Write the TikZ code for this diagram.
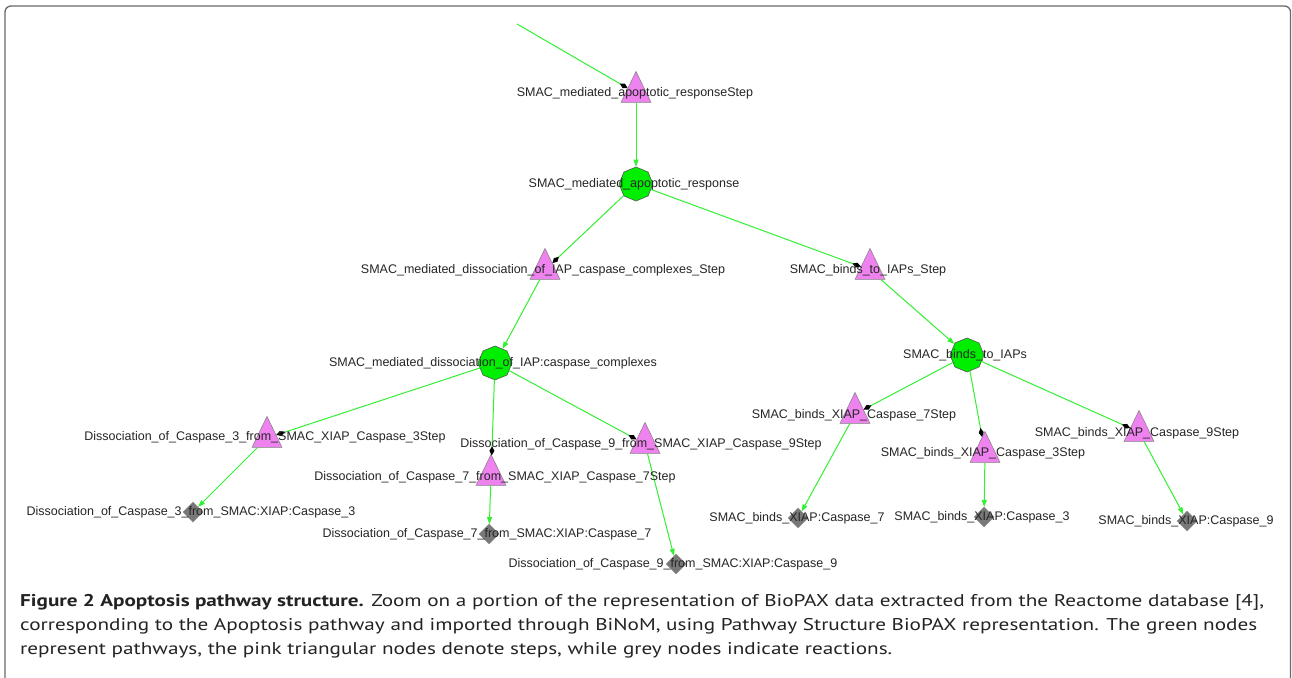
\documentclass[tikz,border=0pt]{standalone}
\usepackage{fontspec}
\setmainfont{Liberation Sans}
\newfontfamily\capfont{PT Sans}
\usetikzlibrary{shapes.geometric,arrows.meta}
\definecolor{edgegreen}{RGB}{50,240,50}
\definecolor{pwgreen}{RGB}{0,238,0}
\definecolor{steppink}{RGB}{238,130,238}
\definecolor{rxgrey}{RGB}{120,120,120}
\definecolor{framegrey}{RGB}{105,105,105}
\definecolor{captext}{RGB}{35,35,35}
\newlength\capw
\newcommand\captextA{\textbf{Figure 2 Apoptosis pathway structure.} Zoom on a portion of the representation of BioPAX data extracted from the Reactome database [4],}
\newcommand\captextB{corresponding to the Apoptosis pathway and imported through BiNoM, using Pathway Structure BioPAX representation. The green nodes}
\newcommand\captextC{represent pathways, the pink triangular nodes denote steps, while grey nodes indicate reactions.}
\newcommand\capsetup{\capfont\fontsize{17}{20}\selectfont\color{captext}}
\tikzset{
  pw/.style={regular polygon, regular polygon sides=8, shape border rotate=22.5,
    minimum size=34pt, inner sep=0pt, fill=pwgreen, draw=black!65, line width=0.6pt},
  stepnode/.style={isosceles triangle, isosceles triangle apex angle=52,
    shape border rotate=90, isosceles triangle stretches,
    minimum width=30pt, minimum height=31pt, inner sep=0pt,
    fill=steppink, draw=black!50, line width=0.5pt},
  rx/.style={diamond, minimum width=20pt, minimum height=20pt, inner sep=0pt,
    fill=rxgrey, draw=black!45, line width=0.5pt},
  lbl/.style={font=\fontsize{12.5}{14}\selectfont, text=black!85, inner sep=0pt},
  toward/.style={draw=edgegreen, line width=1pt, -{Diamond[length=9pt,width=5pt,color=black]}},
  produce/.style={draw=edgegreen, line width=1pt, -{Triangle[length=7pt,width=5pt]}},
  capline/.style={anchor=base west, inner sep=0pt}
}
\begin{document}
\settowidth\capw{\capsetup\captextA}
\pgfmathsetmacro\capsx{1244/\capw}
\begin{tikzpicture}[x=1pt,y=-1pt]
\useasboundingbox (0,0) rectangle (1292,677);
\fill[white] (0,0) rectangle (1292,677);
\draw[framegrey, line width=1.3pt, rounded corners=6pt] (5,720) -- (5,6) -- (1290.5,6) -- (1290.5,720);

% shapes
\coordinate (top) at (517,24);
\node[stepnode] (s1) at (636,93) {};
\node[pw] (p1) at (636,184) {};
\node[stepnode] (s2) at (545,270) {};
\node[stepnode] (s3) at (870,270) {};
\node[pw] (p2) at (495,363) {};
\node[pw] (p3) at (967,355) {};
\node[stepnode] (s4) at (267,438) {};
\node[stepnode] (s5) at (491,476) {};
\node[stepnode] (s6) at (645,444) {};
\node[stepnode] (s7) at (855,414) {};
\node[stepnode] (s8) at (985,453) {};
\node[stepnode] (s9) at (1139,432) {};
\node[rx] (r1) at (193,512) {};
\node[rx] (r2) at (489,534) {};
\node[rx] (r3) at (676,564) {};
\node[rx] (r4) at (798,518) {};
\node[rx] (r5) at (984,517) {};
\node[rx] (r6) at (1187,521) {};

% connectors
\draw[toward] (top) -- (s1);
\draw[produce] (s1) -- (p1);
\draw[toward] (p1) -- (s2);
\draw[toward] (p1) -- (s3);
\draw[produce] (s2) -- (p2);
\draw[produce] (s3) -- (p3);
\draw[toward] (p2) -- (s4);
\draw[toward] (p2) -- (s5);
\draw[toward] (p2) -- (s6);
\draw[toward] (p3) -- (s7);
\draw[toward] (p3) -- (s8);
\draw[toward] (p3) -- (s9);
\draw[produce] (s4) -- (r1);
\draw[produce] (s5) -- (r2);
\draw[produce] (s6) -- (r3);
\draw[produce] (s7) -- (r4);
\draw[produce] (s8) -- (r5);
\draw[produce] (s9) -- (r6);

% labels
\node[lbl] (ls1) at (635,93) {SMAC\_mediated\_apoptotic\_responseStep};
\node[lbl] (lp1) at (634,184) {SMAC\_mediated\_apoptotic\_response};
\node[lbl] (ls2) at (543,270) {SMAC\_mediated\_dissociation\_of\_IAP\_caspase\_complexes\_Step};
\node[lbl] (ls3) at (868,270) {SMAC\_binds\_to\_IAPs\_Step};
\node[lbl] (lp2) at (493,363) {SMAC\_mediated\_dissociation\_of\_IAP:caspase\_complexes};
\node[lbl] (lp3) at (965,355) {SMAC\_binds\_to\_IAPs};
\node[lbl] (ls4) at (265,437) {Dissociation\_of\_Caspase\_3\_from\_SMAC\_XIAP\_Caspase\_3Step};
\node[lbl] (ls5) at (495,477) {Dissociation\_of\_Caspase\_7\_from\_SMAC\_XIAP\_Caspase\_7Step};
\node[lbl] (ls6) at (641,444) {Dissociation\_of\_Caspase\_9\_from\_SMAC\_XIAP\_Caspase\_9Step};
\node[lbl] (lr1) at (191,512) {Dissociation\_of\_Caspase\_3\_from\_SMAC:XIAP:Caspase\_3};
\node[lbl] (lr2) at (487,534) {Dissociation\_of\_Caspase\_7\_from\_SMAC:XIAP:Caspase\_7};
\node[lbl] (lr3) at (673,564) {Dissociation\_of\_Caspase\_9\_from\_SMAC:XIAP:Caspase\_9};
\node[lbl] (ls7) at (854,415) {SMAC\_binds\_XIAP\_Caspase\_7Step};
\node[lbl] (ls8) at (983,453) {SMAC\_binds\_XIAP\_Caspase\_3Step};
\node[lbl] (ls9) at (1137,433) {SMAC\_binds\_XIAP\_Caspase\_9Step};
\node[lbl] (lr4) at (797,518) {SMAC\_binds\_XIAP:Caspase\_7};
\node[lbl] (lr5) at (982,517) {SMAC\_binds\_XIAP:Caspase\_3};
\node[lbl] (lr6) at (1186,521) {SMAC\_binds\_XIAP:Caspase\_9};

% caption
\node[capline] (c1) at (20,606) {\scalebox{\capsx}[1]{\capsetup\captextA}};
\node[capline] (c2) at (20,630) {\scalebox{\capsx}[1]{\capsetup\captextB}};
\node[capline] (c3) at (20,654) {\scalebox{\capsx}[1]{\capsetup\captextC}};
\end{tikzpicture}
\end{document}
